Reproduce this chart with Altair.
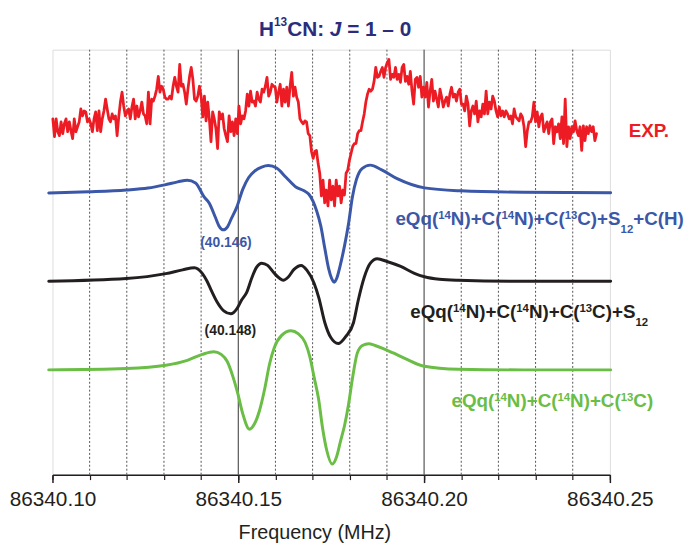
import altair as alt
import numpy as np
import pandas as pd

# ---------------- data ----------------
X_MIN, X_MAX = 86340.10, 86340.25          # MHz
Y_MIN, Y_MAX = 0.0, 430.0                  # arbitrary intensity units

MAJOR_TICKS = [86340.10, 86340.15, 86340.20, 86340.25]
MINOR_TICKS = [86340.10, 86340.11, 86340.12, 86340.13, 86340.14, 86340.15, 86340.16,
               86340.17, 86340.18, 86340.19, 86340.20, 86340.21, 86340.22, 86340.23,
               86340.24, 86340.25]
GRID_SOLID = [86340.15, 86340.20]
GRID_DOTTED = [86340.11, 86340.12, 86340.13, 86340.14, 86340.16, 86340.17, 86340.18,
               86340.19, 86340.21, 86340.22, 86340.23, 86340.24]

# experimental trace (uniformly sampled in frequency)
EXP_START, EXP_END = 86340.1001, 86340.2464
EXP_INT = [
    360, 342, 360, 347, 343, 357, 345, 355, 360, 347,
    357, 348, 340, 360, 347, 352, 357, 370, 363, 368,
    367, 357, 360, 355, 347, 360, 367, 348, 368, 347,
    360, 368, 380, 370, 360, 357, 365, 360, 363, 343,
    362, 377, 387, 373, 363, 367, 370, 360, 372, 380,
    360, 373, 362, 368, 377, 365, 363, 355, 387, 355,
    380, 378, 383, 390, 403, 387, 393, 390, 382, 380,
    380, 383, 380, 393, 402, 393, 387, 415, 393, 395,
    387, 375, 390, 403, 412, 400, 380, 378, 383, 393,
    383, 362, 383, 358, 377, 360, 337, 367, 360, 350,
    330, 367, 360, 365, 350, 343, 337, 363, 347, 357,
    343, 360, 345, 373, 355, 363, 360, 368, 385, 373,
    388, 377, 378, 373, 387, 380, 377, 390, 387, 393,
    402, 383, 387, 395, 393, 392, 377, 387, 395, 373,
    390, 377, 392, 373, 393, 407, 383, 392, 382, 377,
    360, 357, 355, 358, 357, 345, 343, 327, 320, 327,
    328, 315, 305, 282, 298, 275, 288, 272, 298, 278,
    292, 272, 298, 282, 292, 275, 288, 283, 305, 308,
    318, 325, 332, 335, 335, 345, 348, 348, 357, 365,
    377, 385, 390, 388, 390, 398, 412, 402, 403, 408,
    412, 402, 412, 417, 420, 400, 405, 402, 412, 400,
    405, 397, 412, 415, 398, 403, 395, 408, 388, 375,
    400, 402, 392, 403, 382, 392, 382, 397, 372, 388,
    400, 378, 388, 380, 372, 390, 382, 372, 378, 382,
    373, 385, 392, 382, 385, 378, 387, 390, 375, 375,
    368, 383, 375, 353, 368, 373, 365, 378, 357, 368,
    362, 375, 365, 388, 365, 377, 370, 383, 378, 368,
    362, 372, 363, 368, 362, 368, 365, 360, 363, 355,
    370, 362, 360, 358, 365, 362, 352, 332, 348, 357,
    357, 362, 377, 357, 367, 352, 362, 365, 347, 352,
    357, 345, 357, 360, 335, 352, 347, 355, 340, 362,
    335, 380, 332, 352, 340, 352, 347, 358, 348, 343,
    352, 328, 353, 338, 352, 345, 353, 347, 352, 338, 345,
]

# simulation: eQq(14N)+C(14N)+C(13C)+S12+C(H)
BLUE_F = [86340.0990, 86340.1098, 86340.1199, 86340.1257, 86340.1302, 86340.1337,
          86340.1363, 86340.1385, 86340.1408, 86340.1422, 86340.1438, 86340.1448,
          86340.1460, 86340.1471, 86340.1481, 86340.1496, 86340.1512, 86340.1528,
          86340.1544, 86340.1563, 86340.1581, 86340.1603, 86340.1629, 86340.1656,
          86340.1677, 86340.1690, 86340.1701, 86340.1711, 86340.1722, 86340.1733,
          86340.1743, 86340.1751, 86340.1758, 86340.1765, 86340.1775, 86340.1786,
          86340.1797, 86340.1807, 86340.1818, 86340.1833, 86340.1855, 86340.1886,
          86340.1929, 86340.2001, 86340.2099, 86340.2267, 86340.2502]
BLUE_I = [285.0, 286.2, 288.0, 290.0, 293.2, 296.2,
          297.9, 295.2, 281.0, 274.7, 260.7, 251.7,
          247.7, 250.7, 258.7, 270.7, 288.7, 300.7,
          307.2, 311.2, 312.7, 310.2, 300.7, 290.7,
          287.2, 283.7, 276.7, 266.7, 251.7, 228.7,
          208.7, 198.7, 194.7, 198.7, 212.7, 231.7,
          254.7, 280.7, 298.7, 309.7, 313.2, 308.4,
          299.2, 290.2, 287.2, 285.7, 285.2]

# simulation: eQq(14N)+C(14N)+C(13C)+S12
BLACK_F = [86340.0990, 86340.1199, 86340.1305, 86340.1350, 86340.1382, 86340.1403,
           86340.1416, 86340.1427, 86340.1443, 86340.1461, 86340.1480, 86340.1496,
           86340.1509, 86340.1523, 86340.1536, 86340.1549, 86340.1563, 86340.1579,
           86340.1597, 86340.1611, 86340.1621, 86340.1634, 86340.1650, 86340.1669,
           86340.1685, 86340.1704, 86340.1717, 86340.1733, 86340.1749, 86340.1769,
           86340.1789, 86340.1810, 86340.1823, 86340.1839, 86340.1855, 86340.1874,
           86340.1900, 86340.1937, 86340.1974, 86340.2001, 86340.2041, 86340.2092,
           86340.2267, 86340.2502]
BLACK_I = [195.7, 198.4, 203.4, 207.2, 209.4, 203.7,
           195.7, 186.7, 174.7, 165.7, 162.7, 167.7,
           176.7, 184.7, 198.7, 209.7, 214.0, 211.7,
           203.7, 198.7, 196.7, 199.7, 207.7, 211.7,
           206.7, 193.7, 178.7, 153.7, 138.7, 132.7,
           139.7, 153.7, 176.7, 199.7, 213.7, 218.4,
           215.7, 210.7, 203.7, 200.2, 197.7, 196.7,
           195.7, 195.7]

# simulation: eQq(14N)+C(14N)+C(13C)
GREEN_F = [86340.0990, 86340.1199, 86340.1305, 86340.1363, 86340.1403, 86340.1434,
           86340.1454, 86340.1470, 86340.1486, 86340.1499, 86340.1512, 86340.1530,
           86340.1544, 86340.1557, 86340.1571, 86340.1584, 86340.1597, 86340.1616,
           86340.1642, 86340.1661, 86340.1680, 86340.1693, 86340.1704, 86340.1716,
           86340.1727, 86340.1738, 86340.1753, 86340.1765, 86340.1775, 86340.1786,
           86340.1797, 86340.1807, 86340.1820, 86340.1834, 86340.1851, 86340.1868,
           86340.1895, 86340.1915, 86340.1948, 86340.1997, 86340.2092, 86340.2267,
           86340.2502]
GREEN_I = [106.0, 107.4, 110.7, 115.7, 121.7, 124.4,
           121.7, 114.7, 98.7, 81.7, 61.7, 46.0,
           51.7, 64.7, 86.7, 111.7, 128.7, 140.7,
           145.7, 142.7, 133.7, 118.7, 98.7, 76.7,
           46.7, 24.7, 10.7, 18.7, 33.7, 49.7,
           71.7, 96.7, 122.7, 130.7, 132.4, 130.7,
           126.7, 123.4, 117.7, 110.0, 106.7, 106.0,
           106.0]

# ---------------- styles / layout ----------------
FONT = "Liberation Sans"
RED, BLUE, BLACK, GREEN, NAVY = "#ed1c24", "#3b57a7", "#231f20", "#6abd45", "#2b2d7c"
W, H = 564, 430
PAD = {"left": 45, "top": 39, "right": 76, "bottom": 67}
PLOT_LEFT = 8 + PAD["left"]
PLOT_BOTTOM = 8 + PAD["top"] + H

# Arial/Liberation Sans Bold advance widths (per 1000 em)
WID = {" ": 278, "(": 333, ")": 333, "+": 584, ".": 278, ":": 333, "=": 584,
       "C": 722, "E": 667, "H": 722, "J": 556, "N": 722, "P": 667, "Q": 778,
       "S": 667, "X": 667, "e": 556, "q": 611, "\u2013": 556}
for d in "0123456789":
    WID[d] = 556


def tw(s, fs):
    return sum(WID.get(c, 556) for c in s) / 1000.0 * fs


def px_to_f(xp):
    return X_MIN + (xp - PLOT_LEFT) / W * (X_MAX - X_MIN)


def py_to_v(yp):
    return (PLOT_BOTTOM - yp) / H * (Y_MAX - Y_MIN)


def rich(parts, left, base, size, small, color, rise, drop):
    rows = []
    x = left
    for s, kind in parts:
        fs = small if kind in ("sup", "sub") else size
        st = s.lstrip(" ")
        x += (len(s) - len(st)) * WID[" "] / 1000.0 * fs
        y = base - rise if kind == "sup" else (base + drop if kind == "sub" else base)
        rows.append(dict(f=px_to_f(x), v=py_to_v(y), text=st.rstrip(" "), size=fs,
                         color=color, italic=(kind == "it")))
        x += tw(st, fs)
    return rows


LBL_BLUE = [("eQq(", "n"), ("14", "sup"), ("N)+C(", "n"), ("14", "sup"), ("N)+C(", "n"),
            ("13", "sup"), ("C)+S", "n"), ("12", "sub"), ("+C(H)", "n")]
LBL_BLACK = [("eQq(", "n"), ("14", "sup"), ("N)+C(", "n"), ("14", "sup"), ("N)+C(", "n"),
             ("13", "sup"), ("C)+S", "n"), ("12", "sub")]
LBL_GREEN = [("eQq(", "n"), ("14", "sup"), ("N)+C(", "n"), ("14", "sup"), ("N)+C(", "n"),
             ("13", "sup"), ("C)", "n")]
TITLE = [("H", "n"), ("13", "sup"), ("CN: ", "n"), ("J", "it"), (" = 1 \u2013 0", "n")]

rows = []
rows += rich(TITLE, 262, 33.3, 21, 12, NAVY, 10, 0)
rows += rich([("EXP.", "n")], 636, 135, 19, 10, RED, 0, 0)
rows += rich(LBL_BLUE, 400, 224.3, 19, 11.5, BLUE, 6, 8)
rows += rich(LBL_BLACK, 415, 318.3, 19, 11.5, BLACK, 6, 8)
rows += rich(LBL_GREEN, 456.7, 408.3, 19, 11.5, GREEN, 6, 8)
txt = pd.DataFrame(rows)

ann = pd.DataFrame([
    dict(f=px_to_f(228.5), v=py_to_v(246.5), text="(40.146)", color=BLUE),
    dict(f=px_to_f(233.0), v=py_to_v(336.0), text="(40.148)", color=BLACK),
])

# ---------------- chart ----------------
xs = alt.Scale(domain=[X_MIN, X_MAX], nice=False, zero=False)
ys = alt.Scale(domain=[Y_MIN, Y_MAX], nice=False, zero=False)

exp_df = pd.DataFrame({"f": np.linspace(EXP_START, EXP_END, len(EXP_INT)), "v": EXP_INT})
blue_df = pd.DataFrame({"f": BLUE_F, "v": BLUE_I})
black_df = pd.DataFrame({"f": BLACK_F, "v": BLACK_I})
green_df = pd.DataFrame({"f": GREEN_F, "v": GREEN_I})

grid_dot = pd.DataFrame({"f": GRID_DOTTED, "y0": Y_MIN, "y1": Y_MAX})
grid_sol = pd.DataFrame({"f": GRID_SOLID, "y0": Y_MIN, "y1": Y_MAX})

minor_axis = alt.Axis(orient="bottom", values=MINOR_TICKS, tickSize=5, tickWidth=1.2,
                      tickColor=BLACK, labels=False, domain=False, grid=False, title=None)
major_axis = alt.Axis(orient="bottom", values=MAJOR_TICKS, format=".2f", tickSize=8,
                      tickWidth=1.5, tickColor=BLACK, domain=True, domainColor=BLACK,
                      domainWidth=1.5, labelFont=FONT, labelFontSize=21, labelColor=BLACK,
                      labelBaseline="alphabetic", labelPadding=23, labelFlush=False,
                      labelOverlap=False, grid=False,
                      title="Frequency (MHz)", titleFont=FONT, titleFontSize=20,
                      titleFontWeight="normal", titleColor=BLACK, titleX=265, titleY=65,
                      titleBaseline="alphabetic", titleAlign="center")

g1 = alt.Chart(grid_dot).mark_rule(color="#555555", strokeWidth=1, strokeDash=[2, 2]).encode(
    x=alt.X("f:Q", scale=xs, axis=minor_axis),
    y=alt.Y("y0:Q", scale=ys, axis=None), y2="y1:Q")
g2 = alt.Chart(grid_sol).mark_rule(color="#333333", strokeWidth=1).encode(
    x=alt.X("f:Q", scale=xs, axis=None),
    y=alt.Y("y0:Q", scale=ys, axis=None), y2="y1:Q")


def trace(df, color, width, interp, axis=None):
    return alt.Chart(df).mark_line(color=color, strokeWidth=width, interpolate=interp,
                                   strokeJoin="round", strokeCap="round").encode(
        x=alt.X("f:Q", scale=xs, axis=axis),
        y=alt.Y("v:Q", scale=ys, axis=None))


l_exp = trace(exp_df, RED, 2.8, "linear")
l_blue = trace(blue_df, BLUE, 3, "monotone")
l_black = trace(black_df, BLACK, 3, "monotone")
l_green = trace(green_df, GREEN, 3, "monotone", axis=major_axis)


def text_layer(df, **kw):
    return alt.Chart(df).mark_text(font=FONT, fontWeight="bold", **kw).encode(
        x=alt.X("f:Q", scale=xs, axis=None),
        y=alt.Y("v:Q", scale=ys, axis=None),
        text="text:N",
        color=alt.Color("color:N", scale=None, legend=None))


t_norm = text_layer(txt[~txt["italic"]], align="left", baseline="alphabetic").encode(
    size=alt.Size("size:Q", scale=None, legend=None))
t_ital = text_layer(txt[txt["italic"]], align="left", baseline="alphabetic",
                    fontStyle="italic").encode(size=alt.Size("size:Q", scale=None, legend=None))
t_ann = text_layer(ann, align="center", baseline="alphabetic", fontSize=14)

chart = alt.layer(g1, g2, l_exp, l_blue, l_black, l_green, t_norm, t_ital, t_ann).resolve_axis(
    x="independent"
).properties(
    width=W, height=H, padding=PAD, autosize=alt.AutoSizeParams(type="none")
).configure_view(stroke=None).configure(background="white")

chart.save("out.html", embed_options={"renderer": "svg", "actions": False})
